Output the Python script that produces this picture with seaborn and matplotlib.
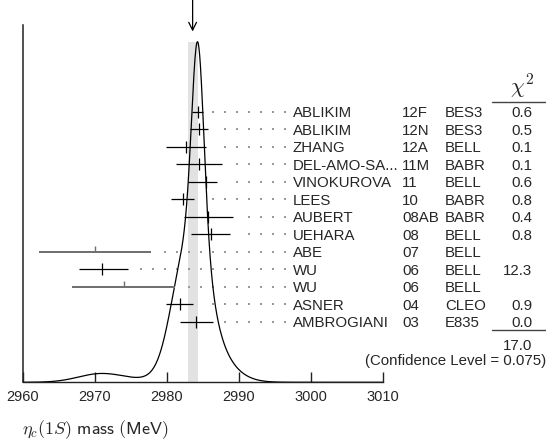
import numpy as np
import pandas as pd
import matplotlib
matplotlib.use("Agg")
import matplotlib.pyplot as plt
import seaborn as sns

# eta_c(1S) mass measurements (MeV)
authors = ["ABLIKIM", "ABLIKIM", "ZHANG", "DEL-AMO-SA...", "VINOKUROVA", "LEES",
           "AUBERT", "UEHARA", "ABE", "WU", "WU", "ASNER", "AMBROGIANI"]
docs = ["12F", "12N", "12A", "11M", "11", "10", "08AB", "08", "07", "06", "06", "04", "03"]
expts = ["BES3", "BES3", "BELL", "BABR", "BELL", "BABR", "BABR", "BELL", "BELL",
         "BELL", "BELL", "CLEO", "E835"]
mass = [2984.3, 2984.5, 2982.7, 2984.5, 2985.4, 2982.2, 2985.8, 2986.1, 2970.0,
        2971.0, 2974.0, 2981.8, 2984.1]
err_lo = [0.8, 1.2, 2.8, 3.2, 2.5, 1.6, 3.4, 2.7, 7.8, 3.2, 7.1, 1.9, 2.3]
err_hi = [0.8, 1.2, 2.8, 3.2, 1.6, 1.6, 3.4, 2.7, 7.8, 3.6, 7.1, 1.9, 2.3]
chi2 = ["0.6", "0.5", "0.1", "0.1", "0.6", "0.8", "0.4", "0.8", "", "12.3", "", "0.9", "0.0"]
used = [True, True, True, True, True, True, True, True, False, True, False, True, True]
chi2_total = "17.0"
conf_level = "0.075"
avg_mass = 2983.6
avg_err = 0.7
xticks = [2960, 2970, 2980, 2990, 3000, 3010]

df = pd.DataFrame({"author": authors, "doc": docs, "expt": expts, "mass": mass,
                   "lo": err_lo, "hi": err_hi, "chi2": chi2, "used": used})

sns.set_style("white")
plt.rcParams["font.family"] = ["Liberation Sans", "DejaVu Sans"]
plt.rcParams["mathtext.fontset"] = "cm"

W, H = 546, 447
fig = plt.figure(figsize=(W / 100, H / 100), dpi=100)

# layout in pixels
X0, PXMEV = 22.7, 7.2        # pixel of 2960 MeV, pixels per MeV
BASE, TOP = 382.3, 25.0      # baseline and top of the frame
ROW0, ROWH = 111.7, 17.5     # first row and row pitch


def vx(px):
    return 2960 + (px - X0) / PXMEV


def py(pxv):
    return (BASE - pxv) / ROWH


ax = fig.add_axes([0, (H - BASE) / H, 1, (BASE - TOP) / H])
ax.set_xlim(vx(0), vx(W))
ax.set_ylim(0, py(TOP))

# ideogram: each fitted measurement contributes a Gaussian of area ~ 1/sigma
grid = np.linspace(2960, 3010, 2501)
dens = np.zeros_like(grid)
for r in df[df.used].itertuples():
    s_mean = 0.5 * (r.lo + r.hi)
    s = np.where(grid < r.mass, r.lo, r.hi)
    dens += np.exp(-0.5 * ((grid - r.mass) / s) ** 2) / s_mean ** 2
peak_y = py(41.7)
curve = pd.DataFrame({"m": grid, "d": dens / dens.max() * peak_y})

# weighted-average band
ax.fill_between([avg_mass - avg_err, avg_mass + avg_err], 0, peak_y,
                color="#e2e2e2", lw=0, zorder=1)

sns.lineplot(data=curve, x="m", y="d", ax=ax, color="black", lw=0.9,
             zorder=4, legend=False)

# leader dots, on a fixed grid ending just before the labels
dot_last = vx(284.7)
dot_step = 12 / PXMEV
gap = 9 / PXMEV
dot_rows = []
for i, r in enumerate(df.itertuples()):
    y = py(ROW0 + i * ROWH)
    start = r.mass + r.hi + gap
    k = np.arange(0, 40)
    xs = dot_last - k * dot_step
    xs = xs[xs >= start]
    for x in xs:
        dot_rows.append((x, y))
dots = pd.DataFrame(dot_rows, columns=["x", "y"])
sns.scatterplot(data=dots, x="x", y="y", ax=ax, s=2.0, marker="s", color="#999999",
                edgecolor="none", linewidth=0, zorder=2, legend=False)

# measurements with error bars
tick_half = 6 / ROWH
for i, r in enumerate(df.itertuples()):
    y = py(ROW0 + i * ROWH)
    if r.used:
        c, lw = "black", 0.9
        ax.plot([r.mass, r.mass], [y - tick_half, y + tick_half], color=c, lw=lw,
                zorder=5, solid_capstyle="butt")
    else:
        c, lw = "#6e6e6e", 1.4
        ax.plot([r.mass, r.mass], [y, y + tick_half], color=c, lw=1.0,
                zorder=5, solid_capstyle="butt")
    ax.plot([r.mass - r.lo, r.mass + r.hi], [y, y], color=c, lw=lw, zorder=5,
            solid_capstyle="butt")

# table of references
fs = 10.8
for i, r in enumerate(df.itertuples()):
    y = py(ROW0 + i * ROWH)
    ax.text(vx(292.5), y, r.author, fontsize=fs, va="center_baseline", ha="left")
    ax.text(vx(402), y, r.doc, fontsize=fs, va="center_baseline", ha="left")
    ax.text(vx(445), y, r.expt, fontsize=fs, va="center_baseline", ha="left")
    if r.chi2:
        ax.text(vx(532), y, r.chi2, fontsize=fs, va="center_baseline", ha="right")

ax.text(vx(522), py(87), r"$\chi^2$", fontsize=16, ha="center", va="center")
ax.plot([vx(492), vx(W)], [py(101.5), py(101.5)], color="#444444", lw=1.0,
        clip_on=False)
ax.plot([vx(492), vx(W)], [py(330), py(330)], color="#444444", lw=1.0,
        clip_on=False)
ax.text(vx(532), py(344), chi2_total, fontsize=fs, va="center_baseline", ha="right")
ax.text(vx(546), py(360), f"(Confidence Level = {conf_level})", fontsize=fs,
        va="center_baseline", ha="right")

# arrow marking the average
ax.annotate("", xy=(avg_mass, py(31.5)), xytext=(avg_mass, py(-2)),
            arrowprops=dict(arrowstyle="->", color="black", lw=0.9,
                            mutation_scale=14, shrinkA=0, shrinkB=0),
            annotation_clip=False)

# axes frame: left line and bottom scale only
for side in ("top", "right"):
    ax.spines[side].set_visible(False)
ax.spines["left"].set_position(("data", 2960))
ax.spines["left"].set_color("#222222")
ax.spines["left"].set_linewidth(1.1)
ax.spines["bottom"].set_bounds(2960, 3010)
ax.spines["bottom"].set_color("#222222")
ax.spines["bottom"].set_linewidth(1.0)
ax.set_xticks(xticks)
ax.set_xticklabels([str(t) for t in xticks], fontsize=10.5)
ax.tick_params(axis="x", direction="in", length=7.5, width=1.0, pad=5.5,
               bottom=True, color="#222222")
ax.set_yticks([])
ax.set_xlabel("")
ax.set_ylabel("")

fig.text(21.5 / W, 1 - 430 / H, r"$\eta_c(1S)$ $\mathsf{mass}$ $\mathsf{(MeV)}$",
         fontsize=13, ha="left", va="center")

fig.savefig("out.png", dpi=100)
